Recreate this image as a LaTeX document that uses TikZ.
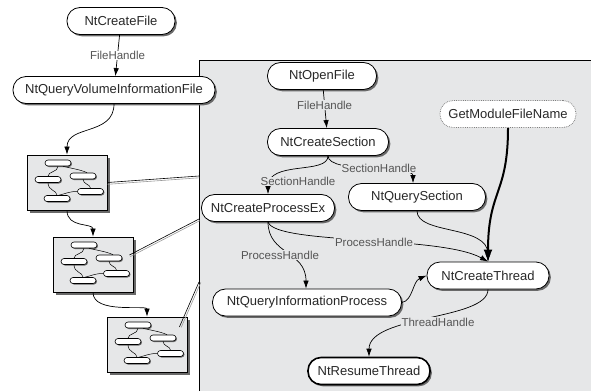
\documentclass[tikz,border=0pt]{standalone}
\usepackage{fontspec}
\setmainfont{Liberation Sans}
\usetikzlibrary{arrows.meta,shadows}
\definecolor{panelgray}{RGB}{230,231,232}
\definecolor{txt}{RGB}{40,40,40}
\definecolor{lbltxt}{RGB}{85,85,85}
\definecolor{shad}{RGB}{105,105,105}
\tikzset{
 fn/.style={draw=black, line width=0.8pt, fill=white, rounded corners=13pt, minimum height=27pt,
   inner xsep=2pt, inner ysep=0pt, text=txt, font=\fontsize{13}{15}\selectfont,
   drop shadow={shadow xshift=1.8pt, shadow yshift=-1.8pt, fill=shad, opacity=1}},
 fnplain/.style={draw=gray, densely dotted, line width=0.8pt, fill=white, rounded corners=13pt, minimum height=27pt,
   inner xsep=2pt, inner ysep=0pt, text=txt, font=\fontsize{13}{15}\selectfont},
 lbl/.style={fill=panelgray, inner sep=0.6pt, text=lbltxt, font=\fontsize{11.5}{13}\selectfont},
 conn/.style={draw=black, line width=0.7pt},
 arr/.style={conn, -{Latex[length=8pt,width=5.5pt]}},
 thickarr/.style={draw=black, line width=2pt, -{Latex[length=12pt,width=9pt]}},
 minibox/.style={draw=black, line width=0.8pt, fill=panelgray, minimum width=80pt, minimum height=55pt,
   inner sep=0pt, drop shadow={shadow xshift=2.5pt, shadow yshift=-2.5pt, fill=shad, opacity=1}},
 pill/.style={draw=black, line width=0.6pt, fill=white, rounded corners=3pt, minimum width=26pt,
   minimum height=6pt, inner sep=0pt, drop shadow={shadow xshift=1pt, shadow yshift=-1pt, fill=shad, opacity=1}},
 miniconn/.style={draw=black, line width=0.5pt},
 zblack/.style={draw=black, line width=0.6pt},
 zgray/.style={draw=gray!80, line width=0.6pt},
 mini/.pic={
   \node[minibox] (-box) at (40,27.5) {};
   \node[pill] (-p1) at (31,8) {};
   \node[pill] (-p2) at (21,24.5) {};
   \node[pill] (-p3) at (56,21) {};
   \node[pill] (-p4) at (63.5,36.5) {};
   \node[pill] (-p5) at (30,43.5) {};
   \draw[miniconn] (-p1.south) .. controls +(0,6) and +(0,-5) .. (-p2.north);
   \draw[miniconn] ([xshift=5pt]-p1.south) .. controls +(8,2) and +(-6,-3) .. ([xshift=4pt]-p3.north);
   \draw[miniconn] (-p3.south) .. controls +(0,5) and +(0,-4) .. (-p4.north);
   \draw[miniconn] (-p2.south) .. controls +(0,8) and +(0,-5) .. (-p5.north);
   \draw[miniconn] (-p4.west) .. controls +(-8,0) and +(8,-2) .. ([xshift=2pt]-p5.north);
 }
}
\begin{document}
\begin{tikzpicture}[x=1pt,y=-1pt]
\useasboundingbox (0,0) rectangle (591,391);
% panel
\fill[panelgray] (199,60) rectangle (591,391);
\draw[line width=0.9pt] (199,391) -- (199,60) -- (591,60);
\coordinate (z1) at (199,176);
\coordinate (z2) at (199,219);
\coordinate (z3) at (199,282);

% left column
\node[fn, minimum width=108pt] (cf) at (121,21) {NtCreateFile};
\node[fn, minimum width=202pt] (qv) at (114,90) {NtQueryVolumeInformationFile};
\pic (m1) at (27,155) {mini};
\pic (m2) at (53,237) {mini};
\pic (m3) at (107,317) {mini};

\draw[arr] (cf) -- node[lbl, fill=white] (fh1) {FileHandle} (qv);
\draw[arr] (qv.south) .. controls +(0,32) and +(0,-30) .. (m1-box.north);
\draw[arr] (m1-box.south) .. controls +(0,18) and +(0,-14) .. (m2-box.north);
\draw[arr] (m2-box.south) .. controls +(0,22) and +(0,-12) .. (m3-box.north);

\draw[zblack] (m1-box.east) -- (z1);
\draw[zgray, transform canvas={shift={(0.3pt,-1.8pt)}}] (m1-box.east) -- (z1);
\draw[zblack] ([xshift=-4pt,yshift=9.5pt]m2-box.east) -- (z2);
\draw[zgray, transform canvas={shift={(0.9pt,-1.6pt)}}] ([xshift=-4pt,yshift=9.5pt]m2-box.east) -- (z2);
\draw[zblack] ([xshift=-8pt,yshift=17.5pt]m3-box.east) -- (z3);
\draw[zgray, transform canvas={shift={(1.8pt,-0.4pt)}}] ([xshift=-8pt,yshift=17.5pt]m3-box.east) -- (z3);

% panel nodes
\node[fn, minimum width=109pt] (of) at (322,76) {NtOpenFile};
\node[fn, minimum width=121pt] (cs) at (328,142) {NtCreateSection};
\node[fnplain, minimum width=136pt] (gm) at (508,114) {GetModuleFileName};
\node[fn, minimum width=137pt] (qs) at (417,197) {NtQuerySection};
\node[fn, minimum width=133pt] (cp) at (268,208) {NtCreateProcessEx};
\node[fn, minimum width=122pt] (ct) at (488,275.5) {NtCreateThread};
\node[fn, minimum width=189pt] (qi) at (307,302.5) {NtQueryInformationProcess};
\node[fn, minimum width=122pt, line width=1.6pt] (rt) at (369,371) {NtResumeThread};

% panel edges
\draw[arr] (of) -- node[lbl, pos=0.4] (fh2) {FileHandle} (cs);
\draw[arr] (cs.south) .. controls +(0,18) and +(0,-18) .. ([xshift=-4pt]qs.north);
\draw[arr] (cs.south) .. controls +(0,19) and +(0,-34) .. (cp.north);
\draw[arr] (cp.south) .. controls (275,245) and (440,235) .. (ct.north);
\draw[arr] (cp.south) .. controls +(0,33) and +(0,-38) .. ([xshift=-1pt]qi.north);
\draw[arr] (qs.south) .. controls +(0,24) and +(0,-37) .. (ct.north);
\draw[thickarr] (gm.south) .. controls +(0,67) and +(0,-72) .. (ct.north);
\draw[arr] (qi.east) .. controls +(11,-2) and +(-14,6) .. (ct.west);
\draw[arr] (ct.south) .. controls +(0,31) and +(0,-42) .. (rt.north);

% edge labels
\node[lbl] (sh1) at (379,168) {SectionHandle};
\node[lbl] (sh2) at (298,181.5) {SectionHandle};
\node[lbl] (ph1) at (374,242) {ProcessHandle};
\node[lbl] (ph2) at (280,255) {ProcessHandle};
\node[lbl] (th) at (438,322) {ThreadHandle};
\end{tikzpicture}
\end{document}
